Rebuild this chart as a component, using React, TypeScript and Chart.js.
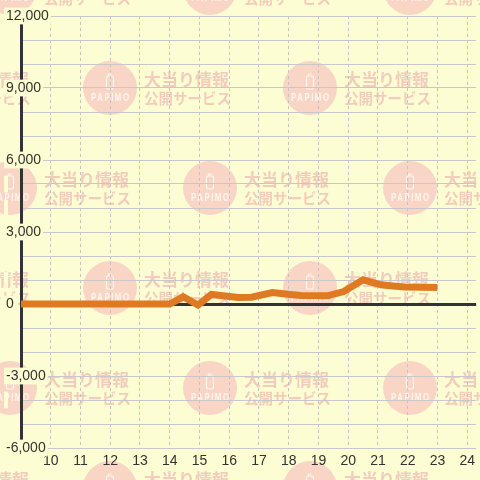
import React, { useEffect, useRef } from "react";
import { Chart, registerables } from "chart.js";

Chart.register(...registerables);

const hours: number[] = [9, 14, 14.45, 14.95, 15.4, 16.3, 16.75, 17.45, 18.05, 18.4, 19.3, 19.85, 20.5, 21.1, 21.5, 21.9, 23.0];
const values: number[] = [0, 0, 300, -40, 400, 270, 280, 480, 400, 350, 340, 520, 1010, 800, 750, 710, 690];

const X_MIN = 9;
const X_MAX = 24.3;
const Y_MIN = -6000;
const Y_MAX = 12000;
const Y_STEP = 1000;
const Y_LABEL_STEP = 3000;

const BG = "#fdfdd3";
const LINE_COLOR = "#e07a22";
const FONT = "'Liberation Sans', Arial, sans-serif";

const watermarkPlugin = {
  id: "watermark",
  beforeDraw(chart: any) {
    const ctx = chart.ctx as CanvasRenderingContext2D;
    const w = chart.width;
    const h = chart.height;
    ctx.save();
    ctx.fillStyle = BG;
    ctx.fillRect(0, 0, w, h);
    for (let r = -1; r <= 4; r++) {
      const cy = 88 + r * 100;
      const off = (r % 2 === 0) ? 110 : 10;
      for (let cx = off - 200; cx <= w + 100; cx += 200) {
        ctx.fillStyle = "#f9d5c5";
        ctx.beginPath();
        ctx.arc(cx, cy, 27, 0, Math.PI * 2);
        ctx.fill();
        ctx.strokeStyle = "#fff6ee";
        ctx.lineWidth = 1.2;
        ctx.beginPath();
        (ctx as any).roundRect(cx - 3.5, cy - 12, 7, 13, 1.5);
        ctx.stroke();
        ctx.beginPath();
        ctx.moveTo(cx - 1.5, cy - 12);
        ctx.lineTo(cx - 1.5, cy - 14);
        ctx.lineTo(cx + 1.5, cy - 14);
        ctx.stroke();
        ctx.save();
        ctx.translate(cx, cy + 10);
        ctx.scale(0.78, 1);
        ctx.fillStyle = "#fff6ee";
        ctx.font = `bold 10px ${FONT}`;
        (ctx as any).letterSpacing = "2px";
        ctx.textAlign = "center";
        ctx.textBaseline = "middle";
        ctx.fillText("PAPIMO", 1, 0);
        (ctx as any).letterSpacing = "0px";
        ctx.restore();
        ctx.fillStyle = "#f2cdbd";
        ctx.textAlign = "left";
        ctx.textBaseline = "middle";
        ctx.font = `bold 17px 'Noto Sans CJK JP', sans-serif`;
        ctx.fillText("大当り情報", cx + 34, cy - 8);
        ctx.font = `bold 14.5px 'Noto Sans CJK JP', sans-serif`;
        ctx.fillText("公開サービス", cx + 34, cy + 10);
      }
    }
    ctx.restore();
  },
};

export default function App() {
  const canvasRef = useRef<HTMLCanvasElement | null>(null);

  useEffect(() => {
    document.body.style.margin = "0";
    const canvas = canvasRef.current;
    if (!canvas) return;
    const data = hours.map((hr, i) => ({ x: hr, y: values[i] }));
    const chart = new Chart(canvas, {
      type: "line",
      data: {
        datasets: [
          {
            data,
            borderColor: LINE_COLOR,
            borderWidth: 7,
            pointRadius: 0,
            tension: 0,
            fill: false,
          },
        ],
      },
      options: {
        animation: false,
        responsive: false,
        devicePixelRatio: 1,
        layout: { padding: { left: 6, top: 16, right: 0, bottom: 0 } },
        plugins: {
          legend: { display: false },
          tooltip: { enabled: false },
        },
        scales: {
          x: {
            type: "linear",
            min: X_MIN,
            max: X_MAX,
            afterFit: (s: any) => {
              s.height = 32;
            },
            border: { display: false, dash: [3, 3] },
            grid: {
              drawTicks: false,
              color: (c: any) =>
                Number.isInteger(c.tick?.value) && c.tick.value > X_MIN ? "#c4c4c8" : "rgba(0,0,0,0)",
              lineWidth: 1,
            },
            ticks: {
              stepSize: 1,
              includeBounds: false,
              autoSkip: false,
              maxRotation: 0,
              padding: 5,
              color: "#333333",
              font: { size: 14, family: FONT },
              callback: (v: any) => (Number.isInteger(v) && v > X_MIN ? String(v) : ""),
            },
          },
          y: {
            type: "linear",
            min: Y_MIN,
            max: Y_MAX,
            afterFit: (s: any) => {
              s.width = 15;
            },
            border: { display: true, color: "#333333", width: 3 },
            grid: {
              drawTicks: false,
              color: (c: any) => (c.tick?.value === 0 ? "#333333" : "#c8c8cc"),
              lineWidth: (c: any) => (c.tick?.value === 0 ? 3 : 1),
            },
            ticks: {
              stepSize: Y_STEP,
              autoSkip: false,
              mirror: true,
              padding: -15,
              color: "#333333",
              font: { size: 14, family: FONT },
              showLabelBackdrop: true,
              backdropColor: BG,
              backdropPadding: { top: 0, bottom: 0, left: 2, right: 2 },
              callback: (v: any) =>
                v % Y_LABEL_STEP === 0 ? Number(v).toLocaleString("en-US") : "",
            },
          },
        },
      },
      plugins: [watermarkPlugin],
    } as any);
    return () => chart.destroy();
  }, []);

  return (
    <div style={{ position: "fixed", left: 0, top: 0, width: 480, height: 480 }}>
      <canvas ref={canvasRef} width={480} height={480} />
    </div>
  );
}
